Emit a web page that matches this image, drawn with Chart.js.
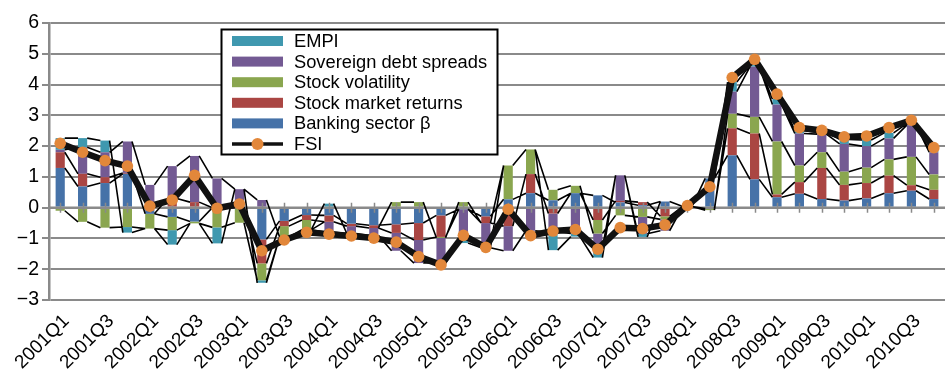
<!DOCTYPE html>
<html>
<head>
<meta charset="utf-8">
<script src="https://cdn.jsdelivr.net/npm/chart.js@4.4.1/dist/chart.umd.min.js"></script>
<style>
  html, body { margin: 0; padding: 0; background: #ffffff; overflow: hidden; }
  #wrap { position: absolute; left: 0; top: 0; width: 960px; height: 374px; }
</style>
</head>
<body>
<div id="wrap"><canvas id="c"></canvas></div>
<script>
// Quarterly categories
const quarters = [
  '2001Q1','2001Q2','2001Q3','2001Q4','2002Q1','2002Q2','2002Q3','2002Q4',
  '2003Q1','2003Q2','2003Q3','2003Q4','2004Q1','2004Q2','2004Q3','2004Q4',
  '2005Q1','2005Q2','2005Q3','2005Q4','2006Q1','2006Q2','2006Q3','2006Q4',
  '2007Q1','2007Q2','2007Q3','2007Q4','2008Q1','2008Q2','2008Q3','2008Q4',
  '2009Q1','2009Q2','2009Q3','2009Q4','2010Q1','2010Q2','2010Q3','2010Q4'
];

// Component contributions (stacked from the bottom: banking first)
const bankingBeta = [
  1.29, 0.69, 0.80, 1.10, -0.20, -0.30, -0.45, 0.00,
  0.00, -1.03, -0.43, -0.24, -0.25, -0.52, -0.57, -0.54,
  -0.50, -0.25, -0.05, -0.28, 0.27, 0.47, 0.24, 0.47,
  0.40, 0.17, 0.08, 0.20, 0.04, 0.95, 1.70, 0.92,
  0.34, 0.45, 0.28, 0.23, 0.30, 0.47, 0.55, 0.28
];
const stockReturns = [
  0.51, 0.41, 0.19, 0.03, 0.00, 0.30, 0.18, 0.00,
  0.02, -0.78, -0.17, -0.16, -0.21, -0.08, -0.09, -0.28,
  -0.55, -0.70, 0.00, -0.22, -0.60, 0.62, -0.19, 0.00,
  -0.40, 0.05, 0.10, -0.28, 0.00, -0.03, 0.88, 1.49,
  0.09, 0.38, 1.01, 0.51, 0.50, 0.57, 0.18, 0.30
];
const stockVolatility = [
  -0.10, -0.46, -0.65, -0.63, -0.48, -0.43, -0.06, -0.64,
  -0.49, -0.55, -0.35, -0.32, 0.00, 0.00, 0.00, 0.18,
  0.18, -0.03, 0.18, 0.00, 1.10, 0.80, 0.34, 0.24,
  -0.44, -0.25, -0.30, -0.10, 0.00, -0.05, 0.47, 0.54,
  1.72, 0.54, 0.51, 0.43, 0.50, 0.53, 0.92, 0.50
];
const sovereignSpreads = [
  0.08, 0.86, 0.81, 1.02, 0.74, 1.05, 1.50, 0.95,
  0.58, 0.25, 0.00, 0.00, -0.33, -0.24, -0.24, -0.58,
  -0.75, -0.75, -0.95, -0.80, -0.80, -0.75, -0.60, -0.84,
  -0.48, 0.83, -0.55, -0.37, 0.00, 0.00, 0.72, 1.63,
  1.20, 1.04, 0.59, 0.90, 0.70, 0.68, 1.03, 0.72
];
const empi = [
  0.38, 0.30, 0.38, -0.18, 0.00, -0.47, 0.00, -0.52,
  0.00, -0.08, 0.00, 0.00, 0.13, 0.00, 0.00, 0.00,
  0.00, -0.07, -0.15, 0.00, 0.00, 0.00, -0.59, -0.10,
  -0.30, 0.00, -0.10, 0.00, 0.00, 0.00, 0.31, 0.05,
  0.18, 0.09, 0.05, 0.15, 0.20, 0.18, 0.05, 0.06
];
// Composite financial stress index
const fsi = [
  2.09, 1.80, 1.53, 1.35, 0.05, 0.25, 1.05, -0.02,
  0.12, -1.40, -1.05, -0.80, -0.86, -0.92, -0.99, -1.12,
  -1.59, -1.86, -0.90, -1.29, -0.05, -0.91, -0.76, -0.71,
  -1.35, -0.65, -0.68, -0.56, 0.07, 0.68, 4.23, 4.82,
  3.69, 2.60, 2.51, 2.30, 2.33, 2.60, 2.84, 1.95
];

const yTicks = [-3, -2, -1, 0, 1, 2, 3, 4, 5, 6];

const COLORS = {
  banking: '#4672A8',
  returns: '#AA4643',
  volatility: '#8AA64F',
  sovereign: '#735A93',
  empi: '#3F98AF',
  fsiLine: '#111111',
  fsiPoint: '#E2873A'
};
const GRID = '#8a8a8a';
const FONT = "'Liberation Sans', Arial, sans-serif";

function barSet(label, data, color) {
  return {
    type: 'bar', label, data, backgroundColor: color,
    borderWidth: 0, stack: 'fsi-parts',
    barPercentage: 0.41, categoryPercentage: 1.0
  };
}

// Zero axis, its tick marks and the connectors between stacked segments
const seriesLines = {
  id: 'seriesLines',
  beforeDatasetDraw(chart, args) {
    if (args.index !== 5) return;
    const ctx = chart.ctx;
    const xs = chart.scales.x, ys = chart.scales.y;
    const { left, right } = chart.chartArea;
    const y0 = ys.getPixelForValue(0);
    ctx.save();
    ctx.strokeStyle = GRID;
    ctx.lineWidth = 2.5;
    ctx.beginPath();
    ctx.moveTo(left, y0);
    ctx.lineTo(right, y0);
    ctx.stroke();
    ctx.lineWidth = 1.5;
    ctx.beginPath();
    quarters.forEach((q, i) => {
      const x = Math.round(xs.getPixelForValue(i)) + 0.5;
      ctx.moveTo(x, y0 - 5);
      ctx.lineTo(x, y0 + 5);
    });
    ctx.stroke();

    ctx.strokeStyle = '#000000';
    ctx.lineWidth = 1.6;
    ctx.beginPath();
    for (let d = 0; d < 5; d++) {
      const els = chart.getDatasetMeta(d).data;
      for (let i = 0; i < els.length - 1; i++) {
        const a = els[i].getProps(['x', 'y', 'width'], true);
        const b = els[i + 1].getProps(['x', 'y', 'width'], true);
        ctx.moveTo(a.x + a.width / 2, a.y);
        ctx.lineTo(b.x - b.width / 2, b.y);
      }
    }
    ctx.stroke();
    ctx.restore();
  }
};

// Boxed legend inside the plot
const boxLegend = {
  id: 'boxLegend',
  afterDraw(chart) {
    const ctx = chart.ctx;
    const ds = chart.data.datasets;
    const order = [4, 3, 2, 1, 0, 5];
    const bx = 221.5, by = 29.5, bw = 276, bh = 125;
    ctx.save();
    ctx.fillStyle = '#ffffff';
    ctx.fillRect(bx, by, bw, bh);
    ctx.strokeStyle = '#000000';
    ctx.lineWidth = 2;
    ctx.strokeRect(bx, by, bw, bh);
    ctx.font = '18.3px ' + FONT;
    ctx.textBaseline = 'middle';
    ctx.textAlign = 'left';
    order.forEach((di, row) => {
      const cy = 41 + row * 20.6;
      const d = ds[di];
      if (d.type === 'line') {
        ctx.strokeStyle = d.borderColor;
        ctx.lineWidth = 3.5;
        ctx.beginPath();
        ctx.moveTo(232, cy);
        ctx.lineTo(283, cy);
        ctx.stroke();
        ctx.fillStyle = d.pointBackgroundColor;
        ctx.beginPath();
        ctx.arc(257.5, cy, 6, 0, Math.PI * 2);
        ctx.fill();
      } else {
        ctx.fillStyle = d.backgroundColor;
        ctx.fillRect(232, cy - 5, 51, 10);
      }
      ctx.fillStyle = '#000000';
      ctx.fillText(d.label, 294, cy + 1);
    });
    ctx.restore();
  }
};

new Chart(document.getElementById('c'), {
  data: {
    labels: quarters,
    datasets: [
      barSet('Banking sector \u03b2', bankingBeta, COLORS.banking),
      barSet('Stock market returns', stockReturns, COLORS.returns),
      barSet('Stock volatility', stockVolatility, COLORS.volatility),
      barSet('Sovereign debt spreads', sovereignSpreads, COLORS.sovereign),
      barSet('EMPI', empi, COLORS.empi),
      {
        type: 'line', label: 'FSI', data: fsi, stack: 'fsi-line', order: -1,
        borderColor: COLORS.fsiLine, borderWidth: 6.5, borderJoinStyle: 'round',
        tension: 0, fill: false,
        pointRadius: 5.8, pointBackgroundColor: COLORS.fsiPoint,
        pointBorderWidth: 0, pointHoverRadius: 5.8
      }
    ]
  },
  options: {
    responsive: true,
    maintainAspectRatio: false,
    animation: false,
    devicePixelRatio: 1,
    layout: { padding: { top: 23, right: 5, left: 0, bottom: 0 } },
    plugins: { legend: { display: false }, tooltip: { enabled: false } },
    scales: {
      x: {
        stacked: true,
        offset: true,
        grid: { display: false, drawTicks: false },
        border: { display: false },
        ticks: {
          autoSkip: false, maxRotation: 45, minRotation: 45,
          padding: 10, labelOffset: 6, color: '#000000',
          font: { family: FONT, size: 19 },
          callback: (v, i) => (i % 2 === 0 ? quarters[i] : '')
        },
        afterFit: (s) => { s.height = 74; }
      },
      y: {
        stacked: true,
        min: yTicks[0], max: yTicks[yTicks.length - 1],
        afterBuildTicks: (s) => { s.ticks = yTicks.map(v => ({ value: v })); },
        grid: { color: GRID, lineWidth: 2, tickLength: 7 },
        border: { color: GRID, width: 2.5 },
        ticks: {
          color: '#000000', padding: 3,
          font: { family: FONT, size: 19.5 },
          callback: (v) => (v < 0 ? '\u2212' + Math.abs(v) : String(v))
        },
        afterFit: (s) => { s.width = 49; }
      }
    }
  },
  plugins: [seriesLines, boxLegend]
});
</script>
</body>
</html>
